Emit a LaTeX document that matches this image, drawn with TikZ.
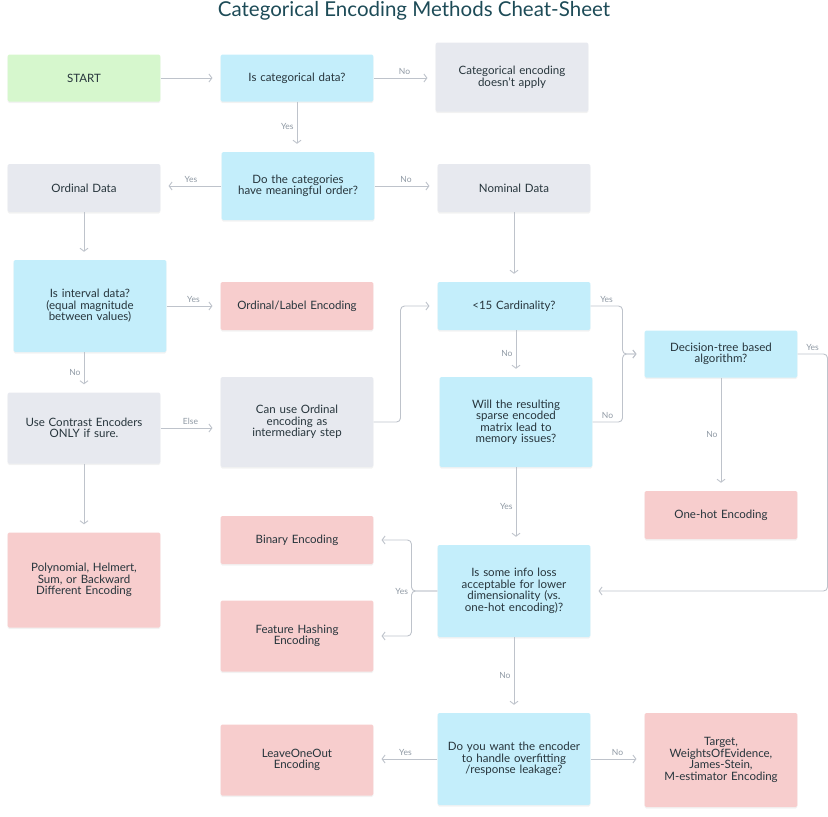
\documentclass[tikz,border=0pt]{standalone}
\usepackage{fontspec}
\setmainfont{Lato}
\usepackage{xcolor}
\usetikzlibrary{arrows.meta,positioning,shadows}
\definecolor{startgreen}{HTML}{D6F7CD}
\definecolor{askblue}{HTML}{C4EEFB}
\definecolor{infogray}{HTML}{E7E9EF}
\definecolor{encpink}{HTML}{F7CDCD}
\definecolor{linegray}{HTML}{BEC3CB}
\definecolor{labelgray}{HTML}{8E98A3}
\definecolor{titleteal}{HTML}{1D4B57}
\definecolor{boxtext}{HTML}{27353C}

\begin{document}
\begin{tikzpicture}[x=1pt,y=-1pt,font=\fontsize{11.5}{11.5}\selectfont]
	\tikzstyle{box}=[rectangle,rounded corners=1.5pt,minimum width=152pt,text width=146pt,align=center,text=boxtext,drop shadow={shadow xshift=0pt,shadow yshift=-1.5pt,opacity=0.10}]
	\tikzstyle{start}=[box,fill=startgreen]
	\tikzstyle{question}=[box,fill=askblue]
	\tikzstyle{info}=[box,fill=infogray]
	\tikzstyle{encoding}=[box,fill=encpink]
	\tikzstyle{flow}=[draw=linegray,line width=0.9pt,rounded corners=4pt,-{Straight Barb[length=3pt,width=8pt]},shorten >=8pt]
	\tikzstyle{answer}=[font=\fontsize{8.5}{9}\selectfont,text=labelgray,inner sep=3pt]

	\useasboundingbox (0,0) rectangle (828,817);
	\node[font=\fontsize{20.5}{22}\selectfont,text=titleteal] (title) at (414,11) {Categorical Encoding Methods Cheat-Sheet};

	% first column
	\node[start,minimum height=47pt] (start) at (84,78) {START};
	\node[info,minimum height=48pt] (ordinal) at (84,188) {Ordinal Data};
	\node[question,minimum height=92pt] (interval) at (90,306) {Is interval data?\\(equal magnitude\\between values)};
	\node[info,minimum height=71pt] (contrast) at (84,428) {Use Contrast Encoders\\ONLY if sure.};
	\node[encoding,minimum height=95pt] (poly) at (84,580) {Polynomial, Helmert,\\Sum, or Backward\\Different Encoding};

	% second column
	\node[question,minimum height=47pt] (iscat) at (297,78) {Is categorical data?};
	\node[question,minimum height=68pt] (order) at (298,186) {Do the categories\\have meaningful order?};
	\node[encoding,minimum height=48pt] (label) at (297,306) {Ordinal/Label Encoding};
	\node[info,minimum height=90pt] (inter) at (297,422) {Can use Ordinal\\encoding as\\intermediary step};
	\node[encoding,minimum height=48pt] (binary) at (297,540) {Binary Encoding};
	\node[encoding,minimum height=71pt] (hashing) at (297,636) {Feature Hashing\\Encoding};
	\node[encoding,minimum height=71pt] (loo) at (297,760) {LeaveOneOut\\Encoding};

	% third column
	\node[info,minimum height=69pt] (notapply) at (512,77) {Categorical encoding\\doesn't apply};
	\node[info,minimum height=48pt] (nominal) at (514,188) {Nominal Data};
	\node[question,minimum height=48pt] (card) at (514,306) {<15 Cardinality?};
	\node[question,minimum height=90pt] (memory) at (516,422) {Will the resulting\\sparse encoded\\matrix lead to\\memory issues?};
	\node[question,minimum height=92pt] (loss) at (514,591) {Is some info loss\\acceptable for lower\\dimensionality (vs.\\one-hot encoding)?};
	\node[question,minimum height=92pt] (leakage) at (514,759) {Do you want the encoder\\to handle overfitting\\/response leakage?};

	% fourth column
	\node[question,minimum height=47pt] (tree) at (721,354) {Decision-tree based\\algorithm?};
	\node[encoding,minimum height=48pt] (onehot) at (721,515) {One-hot Encoding};
	\node[encoding,minimum height=94pt] (target) at (721,760) {Target,\\WeightsOfEvidence,\\James-Stein,\\M-estimator Encoding};

	% connectors
	\draw[flow] (start) -- (iscat);
	\draw[flow] (iscat.east) -- node[answer,above]{No} (iscat.east -| notapply.west);
	\draw[flow] (iscat.south) -- node[answer,left]{Yes} (iscat.south |- order.north);
	\draw[flow] (order.west) -- node[answer,above]{Yes} (order.west -| ordinal.east);
	\draw[flow] (order.east) -- node[answer,above]{No} (order.east -| nominal.west);
	\draw[flow] (ordinal.south) -- (ordinal.south |- interval.north);
	\draw[flow] (nominal.south) -- (nominal.south |- card.north);
	\draw[flow] (interval.east) -- node[answer,above]{Yes} (interval.east -| label.west);
	\draw[flow] (interval.south -| contrast) -- node[answer,left]{No} (contrast.north);
	\draw[flow] (contrast.east) -- node[answer,above]{Else} (contrast.east -| inter.west);
	\draw[flow] (contrast) -- (poly);
	\draw[flow] (inter.east) -- ++(27,0) |- (card.west);
	\draw[flow] (card.east) -- node[answer,above]{Yes} ++(32,0) |- (tree.west);
	\draw[flow] (memory.east) -- node[answer,above]{No} ++(30,0) |- (tree.west);
	\draw[flow] (card.south -| memory) -- node[answer,left]{No} (memory.north);
	\draw[flow] (tree) -- node[answer,left]{No} (onehot);
	\draw[flow] (tree.east) -- node[answer,above]{Yes} ++(30,0) |- (loss.east);
	\draw[flow] (memory.south) -- node[answer,left]{Yes} (memory.south |- loss.north);
	\draw[flow] (loss.west) -- ++(-26,0) node[answer,left]{Yes} |- (binary.east);
	\draw[flow] (loss.west) -- ++(-26,0) |- (hashing.east);
	\draw[flow] (loss) -- node[answer,left]{No} (leakage);
	\draw[flow] (leakage.west) -- node[answer,above]{Yes} (leakage.west -| loo.east);
	\draw[flow] (leakage.east) -- node[answer,above]{No} (leakage.east -| target.west);
\end{tikzpicture}
\end{document}
